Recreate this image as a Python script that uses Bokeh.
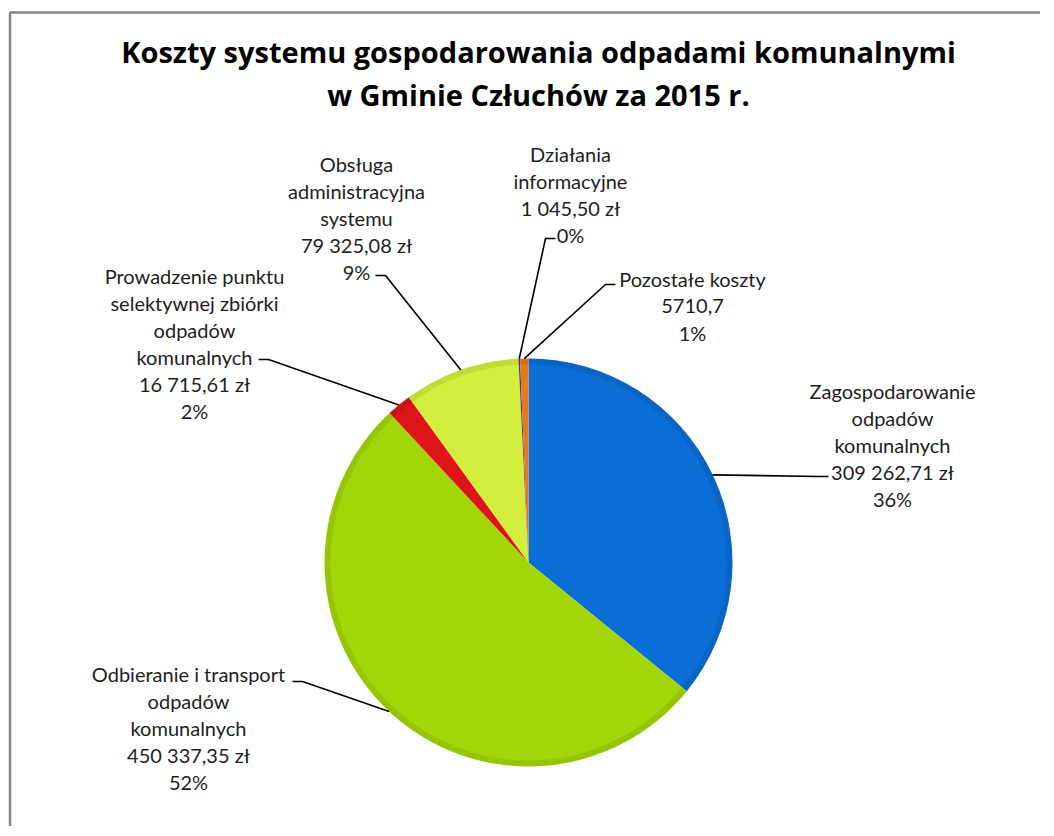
import math
from bokeh.plotting import figure
from bokeh.models import Range1d, ColumnDataSource
from bokeh.core.properties import value
from bokeh.embed import file_html
from bokeh.resources import INLINE

# ---------------- data ----------------
categories = [
    "Zagospodarowanie odpadów komunalnych",
    "Odbieranie i transport odpadów komunalnych",
    "Prowadzenie punktu selektywnej zbiórki odpadów komunalnych",
    "Obsługa administracyjna systemu",
    "Działania informacyjne",
    "Pozostałe koszty",
]
values = [309262.71, 450337.35, 16715.61, 79325.08, 1045.50, 5710.7]
value_labels = ["309 262,71 zł", "450 337,35 zł", "16 715,61 zł", "79 325,08 zł", "1 045,50 zł", "5710,7"]
label_lines = [
    ["Zagospodarowanie", "odpadów", "komunalnych"],
    ["Odbieranie i transport", "odpadów", "komunalnych"],
    ["Prowadzenie punktu", "selektywnej zbiórki", "odpadów", "komunalnych"],
    ["Obsługa", "administracyjna", "systemu"],
    ["Działania", "informacyjne"],
    ["Pozostałe koszty"],
]
title_lines = ["Koszty systemu gospodarowania odpadami komunalnymi", "w Gminie Człuchów za 2015 r."]

# ---------------- style / layout ----------------
colors = ["#0A6ED6", "#A3D606", "#DF1418", "#D3EE3C", "#4A3F6E", "#E8781E"]
W, H = 1040, 826
def X(px): return px
def Y(py): return H - py

# label layout in screen pixels: (centre x, first line y, anchor x, anchor y, elbow x)
label_layout = [
    (892, 390, 828, 476, 818),
    (188, 673, 292, 681, 302),
    (194, 275, 258, 359, 268),
    (356, 163, 375, 275, 385),
    (570, 153, 555, 238, 545),
    (692, 278, 615, 284, 605),
]
LINE_H = 27

p = figure(width=W, height=H, x_range=Range1d(0, W), y_range=Range1d(0, H),
           output_backend="svg", toolbar_location=None, min_border=0)
p.axis.visible = False
p.grid.visible = False
p.outline_line_color = None
p.background_fill_color = "white"
p.border_fill_color = "white"

# chart frame (left and top edges; the rest lies outside the window)
p.line(x=[X(9.5), X(9.5), W + 20], y=[-20, Y(12), Y(12)],
       line_color="#878787", line_width=2.5)

# pie
total = sum(values)
cx, cy, R = X(528), Y(562), 204
starts, ends, mids = [], [], []
acc = 0.0
for v in values:
    a0 = math.pi / 2 - 2 * math.pi * acc / total
    acc += v
    a1 = math.pi / 2 - 2 * math.pi * acc / total
    starts.append(a0)
    ends.append(a1)
    mids.append((a0 + a1) / 2)

src = ColumnDataSource(dict(start=starts, end=ends, color=colors))
p.wedge(x=cx, y=cy, radius=R, start_angle="start", end_angle="end", direction="clock",
        fill_color="color", line_color=None, source=src)
# bevel hint at rim
p.annular_wedge(x=cx, y=cy, inner_radius=R - 6, outer_radius=R, start_angle="start", end_angle="end",
                direction="clock", fill_color="black", fill_alpha=0.08, line_color=None, source=src)

# labels and leader lines
font = value("Lato")
for i, cat in enumerate(categories):
    tx, ty, ax, ay, ex = label_layout[i]
    pct = "%d%%" % round(values[i] / total * 100)
    lines = label_lines[i] + [value_labels[i], pct]
    for k, line in enumerate(lines):
        p.text(x=[X(tx)], y=[Y(ty + k * LINE_H)], text=[line], text_font=font,
               text_font_size="20px", text_color="#1E1E1E",
               text_align="center", text_baseline="middle")
    px_edge = cx + R * math.cos(mids[i])
    py_edge = cy + R * math.sin(mids[i])
    p.line(x=[X(ax), X(ex), px_edge], y=[Y(ay), Y(ay), py_edge],
           line_color="black", line_width=1.6)

# title
for k, t in enumerate(title_lines):
    p.text(x=[X(538)], y=[Y(51 + k * 43)], text=[t], text_font=value("Open Sans"),
           text_font_size="29px", text_font_style="bold", text_color="black",
           text_align="center", text_baseline="middle")

open("out.html", "w").write(file_html(p, INLINE))
